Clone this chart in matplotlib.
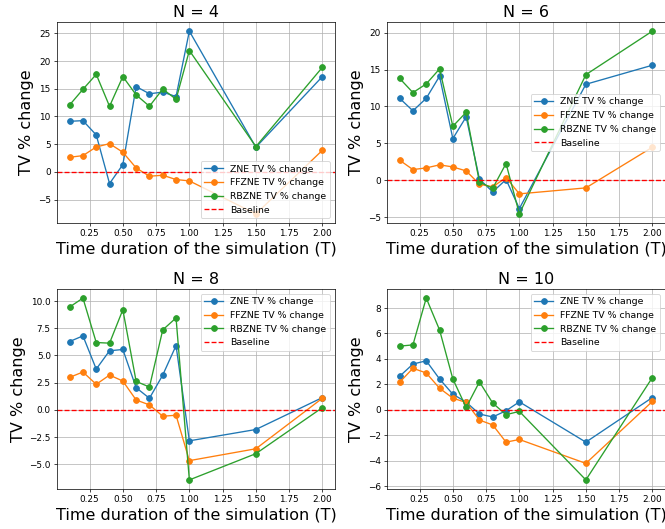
import matplotlib
matplotlib.use("Agg")
import matplotlib.pyplot as plt

T = [0.1, 0.2, 0.3, 0.4, 0.5, 0.6, 0.7, 0.8, 0.9, 1.0, 1.5, 2.0]

zne_4 = [9.13, 9.25, 6.67, -2.1, 1.32, 15.4, 14.1, 14.4, 13.6, 25.4, 4.45, 17.2]
ffzne_4 = [2.64, 2.94, 4.5, 5.1, 3.55, 0.72, -0.78, -0.6, -1.38, -1.62, -7.57, 3.9]
rbzne_4 = [12.08, 14.9, 17.6, 11.84, 17.2, 13.9, 11.84, 14.96, 13.1, 21.9, 4.57, 18.87]

zne_6 = [11.1, 9.4, 11.1, 14.09, 5.64, 8.58, 0.14, -1.58, 0.09, -3.84, 13.0, 15.58]
ffzne_6 = [2.71, 1.44, 1.67, 2.08, 1.8, 1.26, -0.54, -0.9, 0.36, -1.85, -1.04, 4.47]
rbzne_6 = [13.8, 11.87, 13.05, 15.08, 7.31, 9.2, -0.27, -1.08, 2.26, -4.56, 14.3, 20.2]

zne_8 = [6.28, 6.8, 3.75, 5.43, 5.55, 2.04, 1.07, 3.2, 5.91, -2.84, -1.8, 1.13]
ffzne_8 = [2.99, 3.48, 2.35, 3.2, 2.65, 0.91, 0.46, -0.58, -0.49, -4.66, -3.57, 1.07]
rbzne_8 = [9.45, 10.27, 6.19, 6.13, 9.2, 2.62, 2.1, 7.35, 8.45, -6.43, -4.02, 0.21]

zne_10 = [2.63, 3.59, 3.85, 2.42, 1.22, 0.6, -0.34, -0.57, -0.08, 0.62, -2.55, 0.96]
ffzne_10 = [2.16, 3.26, 2.89, 1.69, 0.91, 0.57, -0.81, -1.2, -2.55, -2.34, -4.22, 0.65]
rbzne_10 = [5.0, 5.1, 8.78, 6.28, 2.42, 0.18, 2.19, 0.52, -0.39, -0.13, -5.52, 2.53]

panels = [
    ("N = 4", zne_4, ffzne_4, rbzne_4, "lower right"),
    ("N = 6", zne_6, ffzne_6, rbzne_6, "center right"),
    ("N = 8", zne_8, ffzne_8, rbzne_8, "upper right"),
    ("N = 10", zne_10, ffzne_10, rbzne_10, "upper right"),
]

DPI = 64
fig = plt.figure(figsize=(665 / DPI, 529 / DPI), dpi=DPI)

W, H = 665.0, 529.0
boxes = [
    (57, 22, 335, 223),
    (387, 22, 665, 223),
    (57, 289, 335, 489),
    (387, 289, 665, 489),
]

for (title, zne, ff, rb, loc), (x0, y0, x1, y1) in zip(panels, boxes):
    ax = fig.add_axes([x0 / W, 1 - y1 / H, (x1 - x0) / W, (y1 - y0) / H])
    ax.plot(T, zne, marker="o", markersize=6.5, label="ZNE TV % change")
    ax.plot(T, ff, marker="o", markersize=6.5, label="FFZNE TV % change")
    ax.plot(T, rb, marker="o", markersize=6.5, label="RBZNE TV % change")
    ax.axhline(0, color="r", linestyle="--", label="Baseline")
    ax.set_title(title, fontsize=18)
    ax.set_xlabel("Time duration of the simulation (T)", fontsize=18)
    ax.set_ylabel("TV % change", fontsize=18)
    ax.tick_params(labelsize=10)
    ax.grid(True)
    ax.legend(loc=loc, fontsize=10.5)

fig.savefig("out.png", dpi=DPI)
